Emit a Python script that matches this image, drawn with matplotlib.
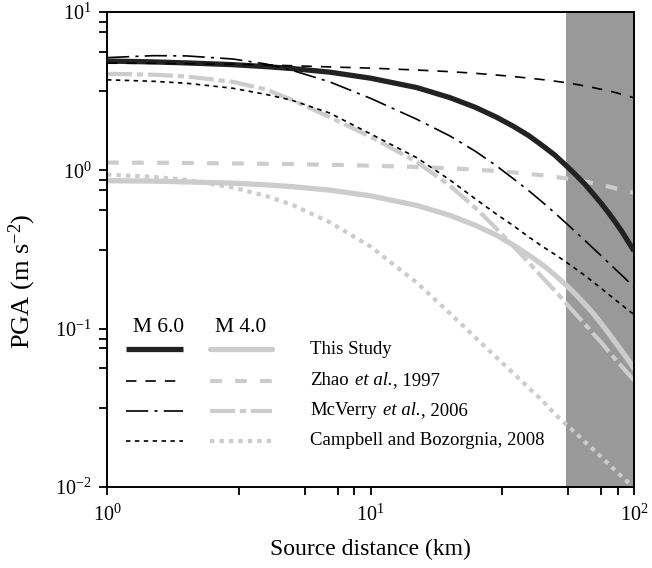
import matplotlib
matplotlib.use("Agg")
import matplotlib.pyplot as plt
from matplotlib.ticker import FixedLocator, FixedFormatter, NullFormatter
from matplotlib.lines import Line2D
from matplotlib.offsetbox import TextArea, HPacker, AnnotationBbox

plt.rcParams['font.family'] = ['Liberation Serif', 'DejaVu Serif']
plt.rcParams['mathtext.fontset'] = 'custom'
plt.rcParams['mathtext.rm'] = 'Liberation Serif'
plt.rcParams['mathtext.it'] = 'Liberation Serif:italic'
plt.rcParams['lines.scale_dashes'] = False

# ---------------- data ----------------
dist = [1, 1.5, 2, 3, 4, 5, 7, 10, 15, 20, 25, 30, 35, 40, 45, 50, 55, 60, 65, 70, 75, 80, 85, 90, 95, 100]

study_m6    = [4.9, 4.84, 4.77, 4.65, 4.52, 4.4, 4.17, 3.82, 3.33, 2.88, 2.5, 2.17, 1.89, 1.65, 1.43, 1.25,
               1.08, 0.94, 0.82, 0.71, 0.62, 0.54, 0.47, 0.41, 0.355, 0.31]
zhao_m6     = [4.75, 4.74, 4.72, 4.68, 4.63, 4.58, 4.5, 4.42, 4.3, 4.2, 4.1, 4.0, 3.91, 3.82, 3.74, 3.66,
               3.58, 3.5, 3.41, 3.33, 3.25, 3.18, 3.1, 3.02, 2.95, 2.87]
mcverry_m6  = [5.15, 5.3, 5.28, 5.05, 4.7, 4.3, 3.62, 2.85, 2.1, 1.65, 1.32, 1.07, 0.88, 0.74, 0.628, 0.539,
               0.467, 0.409, 0.362, 0.322, 0.289, 0.261, 0.237, 0.217, 0.199, 0.183]
campbell_m6 = [3.73, 3.65, 3.55, 3.3, 3.02, 2.78, 2.3, 1.7, 1.2, 0.87, 0.66, 0.53, 0.445, 0.378, 0.33, 0.295,
               0.265, 0.239, 0.217, 0.197, 0.18, 0.165, 0.152, 0.141, 0.131, 0.123]

study_m4    = [0.86, 0.855, 0.845, 0.83, 0.81, 0.79, 0.75, 0.69, 0.6, 0.52, 0.45, 0.39, 0.335, 0.29, 0.253, 0.219,
               0.19, 0.165, 0.143, 0.125, 0.108, 0.094, 0.082, 0.072, 0.0635, 0.056]
zhao_m4     = [1.12, 1.117, 1.113, 1.105, 1.1, 1.095, 1.085, 1.07, 1.05, 1.03, 1.01, 0.99, 0.97, 0.95, 0.93, 0.91,
               0.89, 0.87, 0.85, 0.83, 0.81, 0.79, 0.77, 0.755, 0.737, 0.72]
mcverry_m4  = [4.07, 4.02, 3.92, 3.62, 3.25, 2.8, 2.17, 1.63, 1.13, 0.8, 0.58, 0.43, 0.33, 0.26, 0.21, 0.174,
               0.146, 0.124, 0.107, 0.093, 0.082, 0.072, 0.064, 0.0575, 0.052, 0.047]
campbell_m4 = [0.94, 0.91, 0.87, 0.78, 0.69, 0.61, 0.47, 0.33, 0.195, 0.125, 0.088, 0.066, 0.052, 0.042, 0.035, 0.029,
               0.025, 0.022, 0.0193, 0.0173, 0.0155, 0.014, 0.0127, 0.0116, 0.0107, 0.0098]

shade_range = [55, 100]

mag_labels = ["M 6.0", "M 4.0"]
# each model label: (text before italics, italic part, text after italics)
model_labels = [("This Study", "", ""),
                ("Zhao", "et al.", ", 1997"),
                ("McVerry", "et al.", ", 2006"),
                ("Campbell and Bozorgnia, 2008", "", "")]
xtick_vals = [1, 10, 100]
xtick_labels = [r"$10^{0}$", r"$10^{1}$", r"$10^{2}$"]
ytick_vals = [0.01, 0.1, 1, 10]
ytick_labels = [r"$10^{-2}$", r"$10^{-1}$", r"$10^{0}$", r"$10^{1}$"]

# ---------------- styles ----------------
BLACK = '#222222'
GREY = '#cccccc'
styles_m6 = [dict(color=BLACK, lw=3.8, ls='-', solid_capstyle='butt'),
             dict(color='black', lw=1.2, ls=(0, (7.5, 6.5))),
             dict(color='black', lw=1.2, ls=(0, (16, 4.5, 2.2, 4.5))),
             dict(color='black', lw=1.2, ls=(0, (3.2, 3.2)))]
styles_m4 = [dict(color=GREY, lw=3.8, ls='-', solid_capstyle='round'),
             dict(color=GREY, lw=3.0, ls=(0, (8.5, 9.5))),
             dict(color=GREY, lw=3.0, ls=(0, (18, 3.5, 4.5, 3.5))),
             dict(color=GREY, lw=3.0, ls=(0, (3.2, 3.6)))]

fig = plt.figure(figsize=(6.52, 5.68), dpi=100)
ax = fig.add_axes([107/652, 1-487/568, 527/652, 475/568])

ax.axvspan(shade_range[0], shade_range[1], color='#999999', lw=0, zorder=0)

m4 = [study_m4, zhao_m4, mcverry_m4, campbell_m4]
m6 = [study_m6, zhao_m6, mcverry_m6, campbell_m6]
for vals, st in zip(m4, styles_m4):
    ax.plot(dist, vals, zorder=2, **st)
for vals, st in zip(m6, styles_m6):
    ax.plot(dist, vals, zorder=3, **st)

ax.set_xscale('log')
ax.set_yscale('log')
ax.set_xlim(1, 100)
ax.set_ylim(0.01, 10)

def minor_positions(lo, hi):
    out = []
    for k in range(lo + 1, hi + 1):
        for f in (1/16, 1/8, 1/4, 1/2):
            out.append(10 ** (k - f))
    return out

ax.xaxis.set_major_locator(FixedLocator(xtick_vals))
ax.xaxis.set_major_formatter(FixedFormatter(xtick_labels))
ax.xaxis.set_minor_locator(FixedLocator(minor_positions(0, 2)))
ax.xaxis.set_minor_formatter(NullFormatter())
ax.yaxis.set_major_locator(FixedLocator(ytick_vals))
ax.yaxis.set_major_formatter(FixedFormatter(ytick_labels))
ax.yaxis.set_minor_locator(FixedLocator(minor_positions(-2, 1)))
ax.yaxis.set_minor_formatter(NullFormatter())

ax.tick_params(which='both', direction='out', length=6, width=1.3, labelsize=14.5, colors='black')
ax.tick_params(axis='x', which='major', pad=7)
ax.tick_params(axis='y', which='major', pad=5)
for s in ax.spines.values():
    s.set_linewidth(1.4)

ax.set_xlabel("Source distance (km)", fontsize=17, labelpad=9)
ax.set_ylabel(r"PGA (m s$^{-2}$)", fontsize=19)
ax.yaxis.set_label_coords(-0.131, 0.434)

# ---------------- manual legend (axes fraction) ----------------
tr = ax.transAxes
ax.text(0.097, 0.335, mag_labels[0], transform=tr, fontsize=15.5, ha='center', va='center')
ax.text(0.253, 0.335, mag_labels[1], transform=tr, fontsize=15.5, ha='center', va='center')
rows = [0.2905, 0.2238, 0.1606, 0.0975]
LSIZE = 13.5
for r, lab, s6, s4 in zip(rows, model_labels, styles_m6, styles_m4):
    ax.add_line(Line2D([0.037, 0.145], [r, r], transform=tr, **s6))
    ax.add_line(Line2D([0.195, 0.3125], [r, r], transform=tr, **s4))
    pre, ital, post = lab
    if ital:
        inner = HPacker(children=[TextArea(ital, textprops=dict(fontsize=LSIZE, style='italic')),
                                  TextArea(post, textprops=dict(fontsize=LSIZE))],
                        align='baseline', pad=0, sep=0)
        box = HPacker(children=[TextArea(pre, textprops=dict(fontsize=LSIZE)), inner],
                      align='baseline', pad=0, sep=4.5)
    else:
        box = TextArea(pre, textprops=dict(fontsize=LSIZE))
    ab = AnnotationBbox(box, (0.386, r), xycoords='axes fraction', frameon=False, pad=0,
                        box_alignment=(0, 0.5))
    ax.add_artist(ab)

fig.savefig("out.png", dpi=100)
